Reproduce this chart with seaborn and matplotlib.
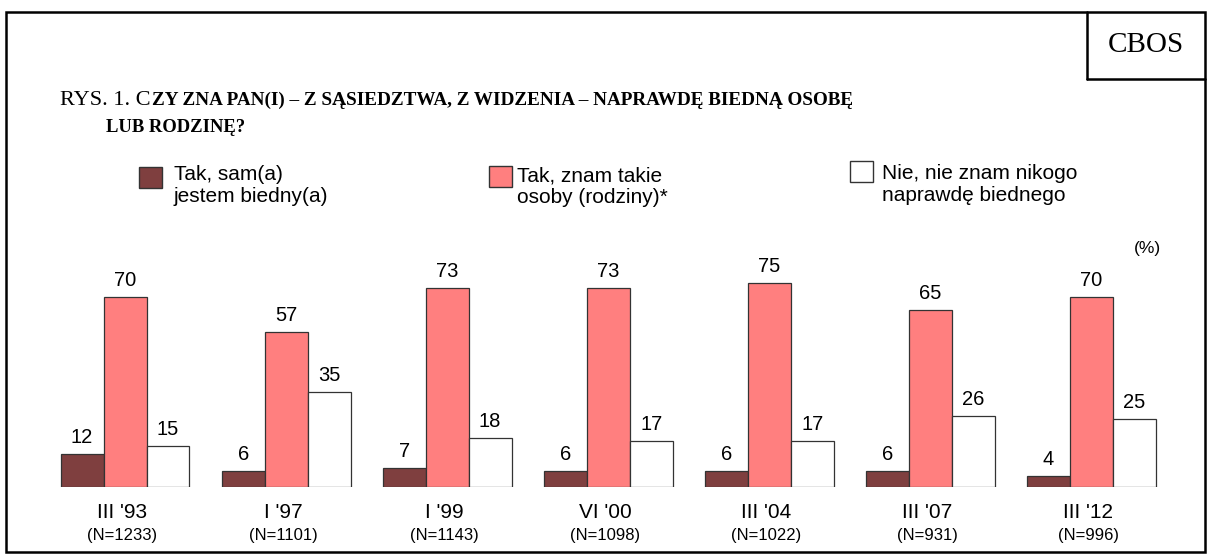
import pandas as pd
import numpy as np
import matplotlib
matplotlib.use("Agg")
import matplotlib.pyplot as plt
import matplotlib.patches as mpatches
from matplotlib.lines import Line2D
from matplotlib import transforms
import seaborn as sns

# survey waves and answers (%)
categories = ["III '93", "I '97", "I '99", "VI '00", "III '04", "III '07", "III '12"]
sample_n = ["(N=1233)", "(N=1101)", "(N=1143)", "(N=1098)", "(N=1022)", "(N=931)", "(N=996)"]
answers = ["Tak, sam(a)\njestem biedny(a)",
           "Tak, znam takie\nosoby (rodziny)*",
           "Nie, nie znam nikogo\nnaprawdę biednego"]
poor_self = [12, 6, 7, 6, 6, 6, 4]
know_poor = [70, 57, 73, 73, 75, 65, 70]
know_none = [15, 35, 18, 17, 17, 26, 25]
colors = ["#7f3f3f", "#ff7f7f", "#ffffff"]

df = pd.DataFrame({
    "survey": categories * 3,
    "answer": [answers[0]] * 7 + [answers[1]] * 7 + [answers[2]] * 7,
    "pct": poor_self + know_poor + know_none,
})

W, H = 1209, 559
def fx(px):
    return px / W
def fy(py):
    return 1 - py / H

sns.set_style("white")
plt.rcParams["font.family"] = ["Liberation Sans", "DejaVu Sans"]
plt.rcParams["text.color"] = "black"
SERIF = ["Liberation Serif", "DejaVu Serif"]

fig = plt.figure(figsize=(W / 100, H / 100), dpi=100)
# axes: x=-0.5 at 44.5px, x=6.5 at 1172px; y=0 at 487px, 2.72px per unit
ax = fig.add_axes([fx(44.5), fy(487), fx(1172) - fx(44.5), 272 / H])

sns.barplot(data=df, x="survey", y="pct", hue="answer", order=categories,
            hue_order=answers, palette=colors, saturation=1, width=0.8,
            edgecolor="#333333", linewidth=0.9, legend=False, ax=ax)
ax.set_xlim(-0.5, 6.5)
ax.set_ylim(0, 100)
ax.axis("off")

for cont in ax.containers:
    ax.bar_label(cont, padding=5, fontsize=14.5, color="black")

# category labels below bars
trans = transforms.blended_transform_factory(ax.transData, fig.transFigure)
for i, (c, n) in enumerate(zip(categories, sample_n)):
    ax.text(i - 0.02, fy(518), c, transform=trans, ha="center", va="baseline", fontsize=15)
    ax.text(i - 0.02, fy(540), n, transform=trans, ha="center", va="baseline", fontsize=12)

# legend drawn by hand
leg_sq = [(139, 167), (489, 166), (850, 161)]
leg_tx = [(174, 180), (517, 181), (882, 179)]
for col, lab, (sx, sy), (tx, ty) in zip(colors, answers, leg_sq, leg_tx):
    fig.patches.append(mpatches.Rectangle((fx(sx), fy(sy + 21)), 23 / W, 21 / H,
                                          transform=fig.transFigure, facecolor=col,
                                          edgecolor="#333333", lw=1))
    l1, l2 = lab.split("\n")
    fig.text(fx(tx), fy(ty), l1, fontsize=15, va="baseline")
    fig.text(fx(tx), fy(ty + 22), l2, fontsize=15, va="baseline")

fig.text(fx(1147), fy(249), "(%)", fontsize=12.5, ha="center", va="center")

# title
renderer = fig.canvas.get_renderer()
t1 = fig.text(fx(60), fy(105), "RYS. 1. C", fontsize=16, family=SERIF, va="baseline")
bb = t1.get_window_extent(renderer)
fig.text(bb.x1 / W + fx(1), fy(105),
         "ZY ZNA PAN(I) – Z SĄSIEDZTWA, Z WIDZENIA – NAPRAWDĘ BIEDNĄ OSOBĘ",
         fontsize=13.8, family=SERIF, weight="bold", va="baseline")
fig.text(fx(106), fy(132), "LUB RODZINĘ?", fontsize=13.4, family=SERIF,
         weight="bold", va="baseline")

# frame and CBOS box
fig.patches.append(mpatches.Rectangle((fx(6), fy(552)), fx(1205) - fx(6), (552 - 12) / H,
                                      transform=fig.transFigure, fill=False,
                                      edgecolor="black", lw=1.8))
fig.lines.append(Line2D([fx(1087), fx(1087)], [fy(12), fy(79)], transform=fig.transFigure,
                        color="black", lw=1.8))
fig.lines.append(Line2D([fx(1087), fx(1205)], [fy(79), fy(79)], transform=fig.transFigure,
                        color="black", lw=1.8))
fig.text(fx(1146), fy(52), "CBOS", fontsize=21, family=SERIF, ha="center", va="baseline")

fig.savefig("out.png", dpi=100)
